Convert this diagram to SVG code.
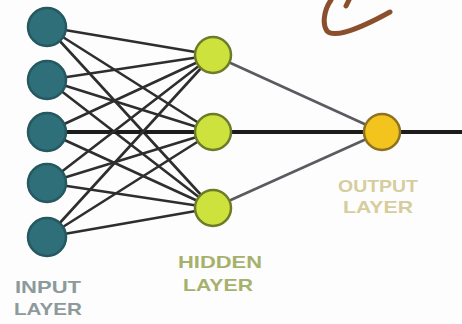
<svg xmlns="http://www.w3.org/2000/svg" width="462" height="324" viewBox="0 0 462 324">
  <style>
    .edge { stroke: #2e2e2e; stroke-width: 2.6; fill: none; stroke-linecap: round; }
    .edge.light { stroke: #5a5a60; }
    .edge.main { stroke: #1c1c1c; stroke-width: 4; }
    .in { fill: #2f6f79; stroke: #255860; stroke-width: 2.5; }
    .hid { fill: #cde23c; stroke: #6e7c2a; stroke-width: 2.5; }
    .out { fill: #f4c41e; stroke: #8d7222; stroke-width: 2.5; }
    .lbl { font-family: "Liberation Sans", Arial, sans-serif; font-weight: bold; font-size: 17px; text-anchor: middle; }
  </style>
  <rect width="462" height="324" fill="#fdfdfd"/>

  <!-- brown pen stroke at the top -->
  <g id="scribble" fill="none" stroke="#8a4f2c" stroke-width="5" stroke-linecap="round" stroke-linejoin="round">
    <path d="M331 0 C324 10 322 24 327 31 C333 37 352 33 390 12"/>
    <path d="M349 0 L346 6"/>
  </g>

  <g id="connectors">
    <!-- input to hidden -->
    <line class="edge" x1="47" y1="27" x2="213" y2="55"/>
    <line class="edge" x1="47" y1="27" x2="213" y2="132"/>
    <line class="edge" x1="47" y1="27" x2="213" y2="208"/>
    <line class="edge" x1="47" y1="80" x2="213" y2="55"/>
    <line class="edge" x1="47" y1="80" x2="213" y2="132"/>
    <line class="edge" x1="47" y1="80" x2="213" y2="208"/>
    <line class="edge" x1="47" y1="132" x2="213" y2="55"/>
    <line class="edge main" x1="47" y1="132" x2="213" y2="132"/>
    <line class="edge" x1="47" y1="132" x2="213" y2="208"/>
    <line class="edge" x1="47" y1="183" x2="213" y2="55"/>
    <line class="edge" x1="47" y1="183" x2="213" y2="132"/>
    <line class="edge" x1="47" y1="183" x2="213" y2="208"/>
    <line class="edge" x1="47" y1="237" x2="213" y2="55"/>
    <line class="edge" x1="47" y1="237" x2="213" y2="132"/>
    <line class="edge" x1="47" y1="237" x2="213" y2="208"/>
    <!-- hidden to output -->
    <line class="edge light" x1="213" y1="55" x2="382" y2="132"/>
    <line class="edge main" x1="213" y1="132" x2="382" y2="132"/>
    <line class="edge light" x1="213" y1="208" x2="382" y2="132"/>
    <!-- output line -->
    <line class="edge main" x1="382" y1="132" x2="462" y2="132"/>
  </g>

  <g id="input-layer">
    <circle class="in" cx="47" cy="27" r="19"/>
    <circle class="in" cx="47" cy="80" r="19"/>
    <circle class="in" cx="47" cy="132" r="19"/>
    <circle class="in" cx="47" cy="183" r="19"/>
    <circle class="in" cx="47" cy="237" r="19"/>
    <text class="lbl" x="48" y="293" fill="#8c9a9c" textLength="66" lengthAdjust="spacingAndGlyphs">INPUT</text>
    <text class="lbl" x="48" y="315" fill="#8c9a9c" textLength="68" lengthAdjust="spacingAndGlyphs">LAYER</text>
  </g>

  <g id="hidden-layer">
    <circle class="hid" cx="213" cy="55" r="18"/>
    <circle class="hid" cx="213" cy="132" r="18"/>
    <circle class="hid" cx="213" cy="208" r="18"/>
    <text class="lbl" x="220" y="268" fill="#a6b16c" textLength="84" lengthAdjust="spacingAndGlyphs">HIDDEN</text>
    <text class="lbl" x="218" y="291" fill="#a6b16c" textLength="70" lengthAdjust="spacingAndGlyphs">LAYER</text>
  </g>

  <g id="output-layer">
    <circle class="out" cx="382" cy="132" r="18"/>
    <text class="lbl" x="378" y="192" fill="#d6cd9c" textLength="80" lengthAdjust="spacingAndGlyphs">OUTPUT</text>
    <text class="lbl" x="378" y="213" fill="#d6cd9c" textLength="70" lengthAdjust="spacingAndGlyphs">LAYER</text>
  </g>
</svg>
